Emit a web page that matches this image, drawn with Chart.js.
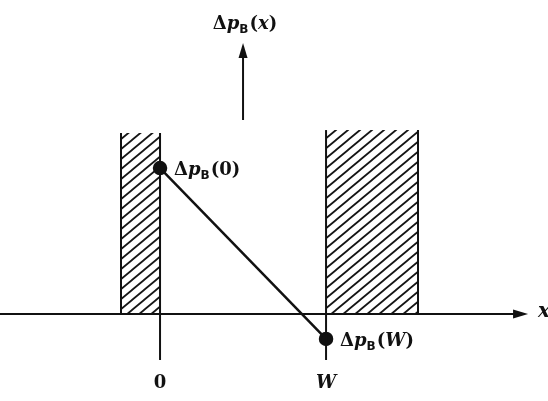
<!DOCTYPE html>
<html><head><meta charset="utf-8">
<script src="https://cdn.jsdelivr.net/npm/chart.js@4"></script>
<style>html,body{margin:0;padding:0;background:#fff}#wrap{width:548px;height:401px}</style>
</head><body><div id="wrap"><canvas id="c" width="548" height="401"></canvas></div>
<script>
// ---- data ----
const xTicks = [0, 1];
const xTickLabels = ['0', 'W'];
const profileX = [0, 1];
const profileY = [1, -0.171];
const profileArgs = ['0', 'W'];
const leftRegion = [-0.235, 0];
const rightRegion = [1, 1.554];
const regionHeight = [1.24, 1.26];
const xAxisLabel = 'x';
const yAxisArg = 'x';

// ---- hatch pattern ----
function hatch() {
  const w = 12, h = 10, cv = document.createElement('canvas');
  cv.width = w; cv.height = h;
  const p = cv.getContext('2d');
  p.strokeStyle = '#151515'; p.lineWidth = 1.8;
  p.beginPath();
  for (let k = 0; k <= 2; k++) {
    const ext = 0.5;
    p.moveTo((k - 1 - ext) * w, (1 + ext) * h); p.lineTo((k + ext) * w, -ext * h);
  }
  p.stroke();
  return p.createPattern(cv, 'repeat');
}
const pat = hatch();

function regionData(r, hgt) {
  return [{x: r[0], y: 0}, {x: r[0], y: hgt}, {x: r[1], y: hgt}, {x: r[1], y: 0}];
}
const sideOnly = ctx => ctx.p0.parsed.y === ctx.p1.parsed.y ? 'rgba(0,0,0,0)' : '#111';

const FONT = '"DejaVu Serif"';
function drawDp(ctx, x, y, arg, italicArg) {
  ctx.textBaseline = 'alphabetic';
  ctx.textAlign = 'left';
  let cx = x;
  ctx.font = 'bold 18px ' + FONT;
  ctx.fillText('Δ', cx, y); cx += ctx.measureText('Δ').width;
  ctx.font = 'italic bold 18px ' + FONT;
  ctx.fillText('p', cx, y); cx += ctx.measureText('p').width;
  ctx.font = 'bold 12px "DejaVu Sans"';
  ctx.fillText('B', cx, y + 4); cx += ctx.measureText('B').width + 1;
  ctx.font = 'bold 18px ' + FONT;
  ctx.fillText('(', cx, y); cx += ctx.measureText('(').width;
  ctx.font = (italicArg ? 'italic ' : '') + 'bold 18px ' + FONT;
  ctx.fillText(arg, cx, y); cx += ctx.measureText(arg).width;
  ctx.font = 'bold 18px ' + FONT;
  ctx.fillText(')', cx, y); cx += ctx.measureText(')').width;
  return cx - x;
}
function measureDp(ctx, arg, italicArg) {
  ctx.save(); ctx.globalAlpha = 0;
  const w = drawDp(ctx, 0, 0, arg, italicArg);
  ctx.restore(); return w;
}

const overlay = {
  id: 'overlay',
  afterDatasetsDraw(chart) {
    const ctx = chart.ctx, xs = chart.scales.x, ys = chart.scales.y;
    const X = v => xs.getPixelForValue(v), Y = v => ys.getPixelForValue(v);
    ctx.save();
    ctx.strokeStyle = '#111'; ctx.fillStyle = '#111'; ctx.lineCap = 'butt';
    // x axis with arrow
    const y0 = Y(0), tip = X(2.217);
    ctx.lineWidth = 2;
    ctx.beginPath(); ctx.moveTo(chart.chartArea.left, y0); ctx.lineTo(tip - 6, y0); ctx.stroke();
    ctx.beginPath(); ctx.moveTo(tip, y0); ctx.lineTo(tip - 15, y0 - 4.5); ctx.lineTo(tip - 15, y0 + 4.5); ctx.closePath(); ctx.fill();
    ctx.font = 'italic bold 20px ' + FONT; ctx.textAlign = 'left'; ctx.textBaseline = 'middle';
    ctx.fillText(xAxisLabel, tip + 10, y0 - 2);
    // tick lines below axis
    ctx.lineWidth = 2;
    xTicks.forEach(t => {
      ctx.beginPath(); ctx.moveTo(X(t), y0); ctx.lineTo(X(t), Y(-0.315)); ctx.stroke();
    });
    // tick labels
    ctx.textAlign = 'center'; ctx.textBaseline = 'middle';
    xTickLabels.forEach((l, i) => {
      ctx.font = (l === '0' ? '' : 'italic ') + 'bold 18px ' + FONT;
      ctx.fillText(l, X(xTicks[i]), Y(-0.475));
    });
    // vertical arrow
    const ax = X(0.5), ab = Y(1.329), at = Y(1.856);
    ctx.lineWidth = 2;
    ctx.beginPath(); ctx.moveTo(ax, ab); ctx.lineTo(ax, at + 8); ctx.stroke();
    ctx.beginPath(); ctx.moveTo(ax, at); ctx.lineTo(ax - 4.5, at + 15); ctx.lineTo(ax + 4.5, at + 15); ctx.closePath(); ctx.fill();
    const wy = measureDp(ctx, yAxisArg, true);
    drawDp(ctx, ax - wy / 2 + 2, Y(1.993) + 6, yAxisArg, true);
    // point labels
    profileArgs.forEach((a, i) => {
      drawDp(ctx, X(profileX[i]) + 14, Y(profileY[i]) + 7, a, a !== '0');
    });
    ctx.restore();
  }
};

new Chart(document.getElementById('c'), {
  type: 'line',
  data: {
    datasets: [
      {
        data: profileX.map((x, i) => ({x, y: profileY[i]})),
        borderColor: '#111', borderWidth: 2.5, tension: 0,
        pointRadius: 6, pointBackgroundColor: '#111', pointBorderColor: '#111', fill: false
      },
      {
        data: regionData(leftRegion, regionHeight[0]),
        borderColor: '#111', borderWidth: 2, pointRadius: 0, tension: 0,
        fill: 'origin', backgroundColor: pat, segment: {borderColor: sideOnly}
      },
      {
        data: regionData(rightRegion, regionHeight[1]),
        borderColor: '#111', borderWidth: 2, pointRadius: 0, tension: 0,
        fill: 'origin', backgroundColor: pat, segment: {borderColor: sideOnly}
      }
    ]
  },
  options: {
    responsive: false, animation: false,
    layout: {padding: 0, autoPadding: false},
    plugins: {legend: {display: false}, tooltip: {enabled: false}},
    scales: {
      x: {type: 'linear', display: false, min: -0.964, max: 2.337},
      y: {type: 'linear', display: false, min: -0.596, max: 2.151}
    }
  },
  plugins: [overlay]
});
</script></body></html>
